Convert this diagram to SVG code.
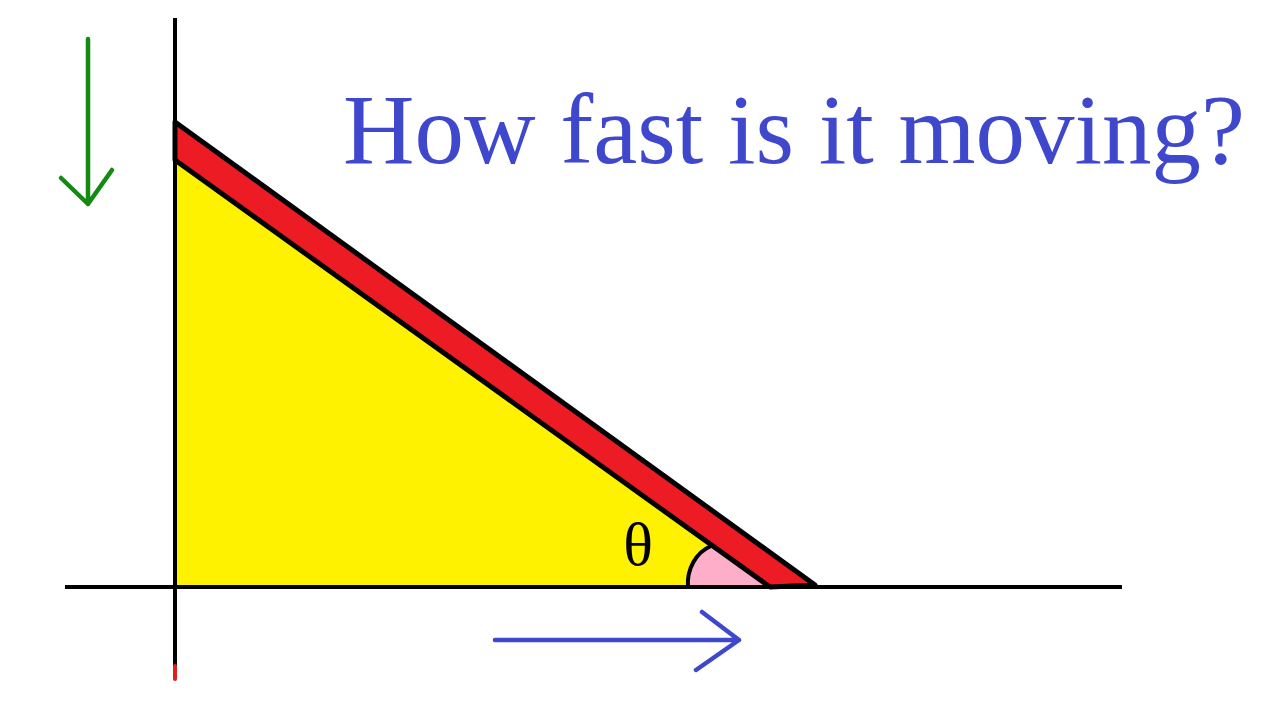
<svg xmlns="http://www.w3.org/2000/svg" width="1280" height="720" viewBox="0 0 1280 720">
<style>
.axis{stroke:#000;stroke-width:4;fill:none;stroke-linecap:butt}
.blk{stroke:#000;stroke-width:5;stroke-linejoin:round}
.green{stroke:#148a14;stroke-width:4.5;fill:none;stroke-linecap:round;stroke-linejoin:round}
.blue{stroke:#3f48cc;stroke-width:4.5;fill:none;stroke-linecap:round;stroke-linejoin:round}
.title{font-family:"Liberation Serif",serif;fill:#3f48cc}
</style>
<rect width="1280" height="720" fill="#fff"/>
<g id="triangle">
<polygon points="175,160 175,587 770,587" fill="#fff200"/>
</g>
<g id="angle">
<path d="M688,587 A36,40 0 0 1 711,546 L770,587 Z" fill="#ffaec9"/>
<path d="M688,587 A36,40 0 0 1 711,546" class="axis"/>
</g>
<g id="ladder">
<polygon points="175,122 815,585 770,587 175,160" fill="#ed1c24" class="blk"/>
</g>
<g id="axes">
<line x1="175" y1="18" x2="175" y2="668" class="axis"/>
<line x1="175" y1="666" x2="175" y2="679" stroke="#e02020" stroke-width="4" stroke-linecap="round"/>
<line x1="65" y1="587" x2="1122" y2="587" class="axis"/>
</g>
<g id="connectors">
<path d="M88,39 V204 M61,178 L88,204 L112,170" class="green"/>
<path d="M495,640 H739 M702,612 L739,640 L696,670" class="blue"/>
</g>
<g id="labels">
<text x="343" y="163" font-size="99" textLength="902" lengthAdjust="spacingAndGlyphs" class="title">How fast is it moving?</text>
<text x="638" y="565" font-size="62" text-anchor="middle" font-family="Liberation Serif, serif" fill="#000">θ</text>
</g>
</svg>
